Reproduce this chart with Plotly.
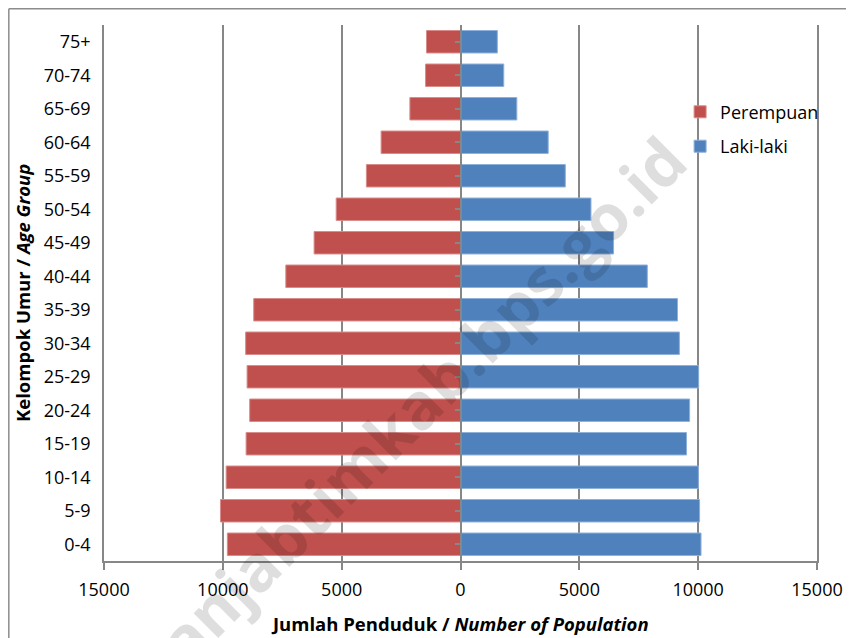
import plotly.graph_objects as go

age_groups = ["0-4", "5-9", "10-14", "15-19", "20-24", "25-29", "30-34", "35-39",
              "40-44", "45-49", "50-54", "55-59", "60-64", "65-69", "70-74", "75+"]
perempuan = [9810, 10100, 9860, 9020, 8870, 8980, 9040, 8700,
             7350, 6160, 5230, 3960, 3340, 2130, 1470, 1430]
laki_laki = [10120, 10060, 10010, 9510, 9640, 10020, 9210, 9130,
             7860, 6440, 5490, 4410, 3690, 2370, 1820, 1550]
x_ticks = [-15000, -10000, -5000, 0, 5000, 10000, 15000]
x_tick_labels = ["15000", "10000", "5000", "0", "5000", "10000", "15000"]

FONT = "Open Sans"
GRID = "#878787"

fig = go.Figure()
fig.add_trace(go.Bar(
    y=age_groups, x=[-v for v in perempuan], orientation="h", name="Perempuan",
    marker=dict(color="#C0504D", line=dict(color="#d98c8a", width=1)),
    legendgroup="p", yaxis="y",
))
fig.add_trace(go.Bar(
    y=age_groups, x=laki_laki, orientation="h", name="Laki-laki",
    marker=dict(color="#4F81BD", line=dict(color="#8fb0da", width=1)),
    legendgroup="l", yaxis="y2",
))

fig.update_layout(
    width=846, height=630,
    margin=dict(l=96, r=37, t=17, b=77),
    paper_bgcolor="white", plot_bgcolor="white",
    barmode="overlay", bargap=0.33,
    font=dict(family=FONT, size=18, color="black"),
    showlegend=True,
    legend=dict(x=0.808, y=0.872, xanchor="left", yanchor="top",
                traceorder="grouped", tracegroupgap=8,
                font=dict(family=FONT, size=18, color="black"),
                bgcolor="rgba(0,0,0,0)", itemwidth=30),
    xaxis=dict(range=[-15000, 15000], tickvals=x_ticks, ticktext=x_tick_labels,
               showgrid=True, gridcolor=GRID, gridwidth=1.5, zeroline=False,
               showline=True, linecolor=GRID, linewidth=1.5,
               ticks="outside", ticklen=7, tickcolor=GRID, tickwidth=1.5,
               ticklabelstandoff=5, fixedrange=True),
    yaxis=dict(type="category", categoryorder="array", categoryarray=age_groups,
               range=[-0.5, len(age_groups) - 0.5],
               showgrid=False, zeroline=False, showline=True, mirror=True,
               linecolor=GRID, linewidth=1.5, ticks="", ticklabelstandoff=8,
               fixedrange=True),
    yaxis2=dict(type="category", categoryorder="array", categoryarray=age_groups,
                range=[-0.5, len(age_groups) - 0.5], overlaying="y",
                anchor="free", position=0.5, side="left",
                showgrid=False, zeroline=False, showline=True,
                linecolor=GRID, linewidth=1.5, ticks="outside", ticklen=5,
                tickcolor=GRID, tickwidth=1.5, showticklabels=False,
                fixedrange=True),
)

fig.add_annotation(
    text="<b>Jumlah Penduduk / <i>Number of Population</i></b>",
    xref="paper", yref="paper", x=0.4993, y=-0.1157,
    xanchor="center", yanchor="middle", showarrow=False,
    font=dict(family=FONT, size=18.5, color="black"),
)
fig.add_annotation(
    text="<b>Kelompok Umur / <i>Age Group</i></b>",
    xref="paper", yref="paper", x=-0.115, y=0.5, textangle=-90,
    xanchor="center", yanchor="middle", showarrow=False,
    font=dict(family=FONT, size=18.5, color="black"),
)
fig.add_annotation(
    text="<b>tanjabtimkab.bps.go.id</b>",
    xref="paper", yref="paper", x=0.432, y=0.283, textangle=-45,
    xanchor="center", yanchor="middle", showarrow=False,
    font=dict(family=FONT, size=64, color="rgba(0,0,0,0.13)"),
)

# chart-area frame (top and left edges visible)
fig.add_shape(type="line", xref="paper", yref="paper",
              x0=-0.1335, x1=-0.1335, y0=-0.3, y1=1.0305,
              line=dict(color="#8c8c8c", width=1.5))
fig.add_shape(type="line", xref="paper", yref="paper",
              x0=-0.1335, x1=1.2, y0=1.0305, y1=1.0305,
              line=dict(color="#8c8c8c", width=1.5))

fig.write_html("out.html")
